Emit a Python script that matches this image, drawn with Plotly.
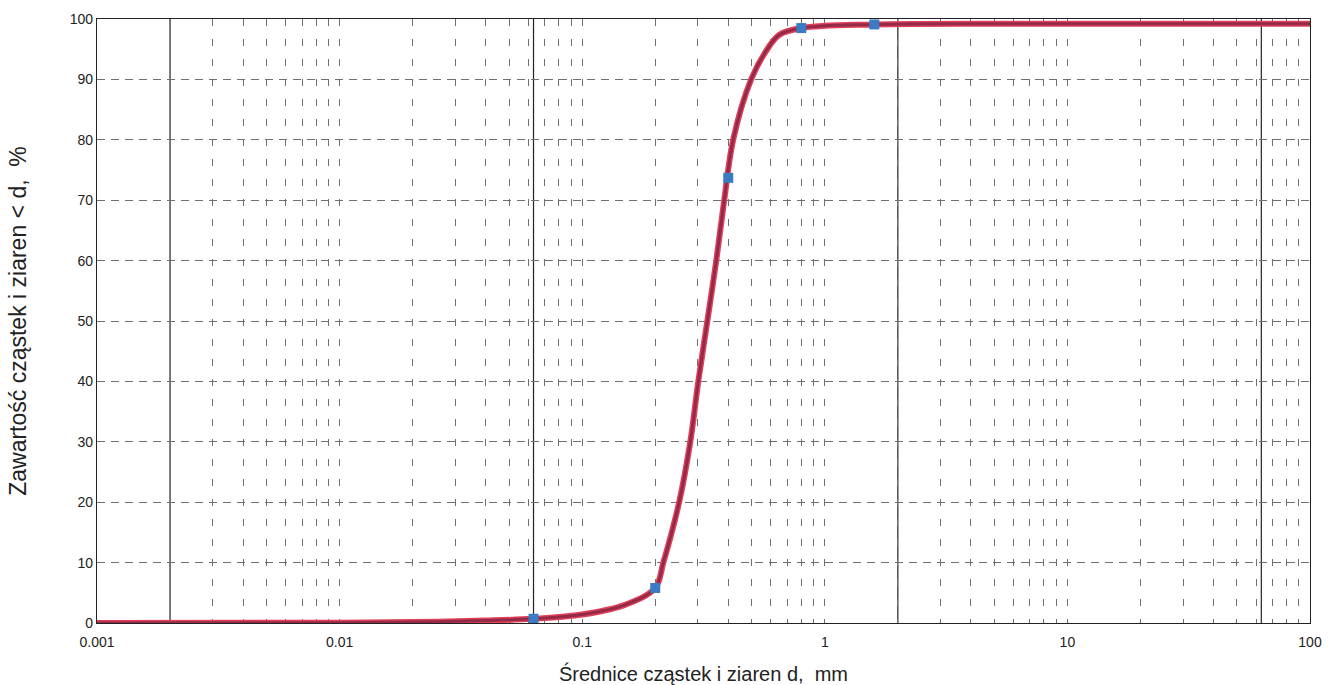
import plotly.graph_objects as go

# Sieve analysis: measured points (grain size in mm, % finer)
sieve_d = [0.063, 0.2, 0.4, 0.8, 1.6]
sieve_pct = [0.7, 5.8, 73.7, 98.5, 99.1]

# Grading curve
curve_d = [0.001, 0.01, 0.02, 0.04, 0.063, 0.1, 0.15, 0.2, 0.216, 0.251, 0.279,
           0.301, 0.328, 0.357, 0.385, 0.419, 0.497, 0.579, 0.65, 0.8, 1.6, 10, 100]
curve_pct = [0.0, 0.05, 0.15, 0.4, 0.7, 1.4, 3.0, 5.8, 10, 20, 30,
             40, 50, 60, 70, 80, 90, 95, 97.4, 98.5, 99.1, 99.2, 99.2]

# Fraction boundaries (clay / silt / sand / gravel / cobbles)
fraction_bounds = [0.002, 0.063, 2, 63]

# Logarithmic grid: every 1..9 multiple in each decade, labels on decades only
decades = [0.001, 0.01, 0.1, 1, 10, 100]
x_grid = []
x_text = []
for dec in decades[:-1]:
    for m in range(1, 10):
        x_grid.append(round(dec * m, 6))
        x_text.append(f"{dec:g}" if m == 1 else "")
x_grid.append(100)
x_text.append("100")

y_ticks = list(range(0, 101, 10))

FONT = "Liberation Sans, Arial, Helvetica, sans-serif"
NB = "\u00a0"

fig = go.Figure()

# curve: bright red edge with darker core
fig.add_trace(go.Scatter(
    x=curve_d, y=curve_pct, mode="lines",
    line=dict(color="#e0405a", width=6, shape="spline", smoothing=1.0),
    hoverinfo="skip", showlegend=False))
fig.add_trace(go.Scatter(
    x=curve_d, y=curve_pct, mode="lines",
    line=dict(color="#922a48", width=3, shape="spline", smoothing=1.0),
    showlegend=False))
fig.add_trace(go.Scatter(
    x=sieve_d, y=sieve_pct, mode="markers",
    marker=dict(symbol="square", size=10, color="#3a7cc4",
                line=dict(width=0)),
    showlegend=False))

for b in fraction_bounds:
    fig.add_shape(type="line", xref="x", yref="paper", x0=b, x1=b, y0=0, y1=1,
                  line=dict(color="#222222", width=1.2), layer="below")

fig.update_layout(
    width=1338, height=685,
    margin=dict(l=97, r=28, t=19, b=62),
    paper_bgcolor="white", plot_bgcolor="white",
    font=dict(family=FONT, size=14, color="#222222"),
)

fig.update_xaxes(
    type="log", range=[-3, 2],
    tickmode="array", tickvals=x_grid, ticktext=x_text,
    ticks="", ticklabelstandoff=6,
    showgrid=True, gridcolor="#707070", gridwidth=1,
    griddash="7px,13px",
    showline=True, linecolor="#222222", linewidth=1.2, mirror=True,
    zeroline=False, tickfont=dict(size=14), automargin=False,
    title=dict(text=f"Średnice cząstek i ziaren d,{NB} mm",
               font=dict(size=20), standoff=18),
)
fig.update_yaxes(
    range=[0, 100], tickmode="array", tickvals=y_ticks,
    ticks="", showgrid=True, gridcolor="#707070", gridwidth=1,
    griddash="8px,6px",
    showline=True, linecolor="#222222", linewidth=1.2, mirror=True,
    zeroline=False, tickfont=dict(size=14), automargin=False,
    title=dict(text=f"Zawartość cząstek i ziaren < d,{NB} %",
               font=dict(size=23), standoff=36),
)

fig.write_html("out.html")
